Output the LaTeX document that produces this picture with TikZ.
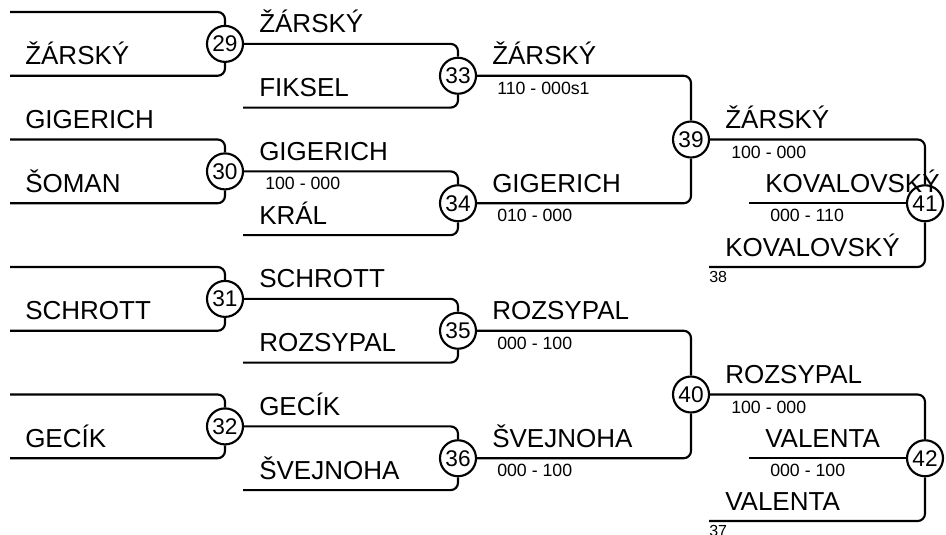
\documentclass[tikz,border=0pt]{standalone}
\usepackage{fontspec}
\setmainfont{Liberation Sans}
\tikzset{
  seat/.style={draw, circle, line width=1.6pt, minimum size=27pt, inner sep=0pt, font=\fontsize{17}{17}\selectfont},
  wire/.style={line width=1.6pt, rounded corners=5.5pt},
  player/.style={anchor=base west, inner sep=0pt, font=\fontsize{19.5}{20}\selectfont},
  score/.style={anchor=base west, inner sep=0pt, font=\fontsize{13.3}{14}\selectfont},
  slot/.style={anchor=base west, inner sep=0pt, font=\fontsize{12}{12}\selectfont},
}
\begin{document}
\begin{tikzpicture}[x=0.75pt, y=-0.75pt]
\useasboundingbox (0,0) rectangle (946,535);
% match circles
\node[seat] (m29) at (225,43.9) {29};
\node[seat] (m30) at (225,171.4) {30};
\node[seat] (m31) at (225,298.9) {31};
\node[seat] (m32) at (225,426.4) {32};
\node[seat] (m33) at (458,75.75) {33};
\node[seat] (m34) at (458,203.25) {34};
\node[seat] (m35) at (458,330.75) {35};
\node[seat] (m36) at (458,458.25) {36};
\node[seat] (m39) at (691,139.5) {39};
\node[seat] (m40) at (691,394.5) {40};
\node[seat] (m41) at (925,203.25) {41};
\node[seat] (m42) at (925,458.25) {42};
% free line ends
\coordinate (e1) at (10,12);
\coordinate (e2) at (10,75.75);
\coordinate (e3) at (10,139.5);
\coordinate (e4) at (10,203.25);
\coordinate (e5) at (10,267);
\coordinate (e6) at (10,330.75);
\coordinate (e7) at (10,394.5);
\coordinate (e8) at (10,458.25);
\coordinate (f33) at (243,107.6);
\coordinate (f34) at (243,235.1);
\coordinate (f35) at (243,362.6);
\coordinate (f36) at (243,490.1);
\coordinate (g41) at (749,203.25);
\coordinate (h41) at (709,267);
\coordinate (g42) at (749,458.25);
\coordinate (h42) at (709,521);
% first round
\draw[wire] (e1) -| (m29.north);
\draw[wire] (e2) -| (m29.south);
\draw[wire] (e3) -| (m30.north);
\draw[wire] (e4) -| (m30.south);
\draw[wire] (e5) -| (m31.north);
\draw[wire] (e6) -| (m31.south);
\draw[wire] (e7) -| (m32.north);
\draw[wire] (e8) -| (m32.south);
% second round
\draw[wire] (m29.east) -| (m33.north);
\draw[wire] (f33) -| (m33.south);
\draw[wire] (m30.east) -| (m34.north);
\draw[wire] (f34) -| (m34.south);
\draw[wire] (m31.east) -| (m35.north);
\draw[wire] (f35) -| (m35.south);
\draw[wire] (m32.east) -| (m36.north);
\draw[wire] (f36) -| (m36.south);
% third round
\draw[wire] (m33.east) -| (m39.north);
\draw[wire] (m34.east) -| (m39.south);
\draw[wire] (m35.east) -| (m40.north);
\draw[wire] (m36.east) -| (m40.south);
% final matches
\draw[wire] (m39.east) -| (m41.north);
\draw[wire] (g41) -- (m41.west);
\draw[wire] (h41) -| (m41.south);
\draw[wire] (m40.east) -| (m42.north);
\draw[wire] (g42) -- (m42.west);
\draw[wire] (h42) -| (m42.south);
% names, first round
\node[player] (n1) at (25,64.75) {ŽÁRSKÝ};
\node[player] (n2) at (25,128.5) {GIGERICH};
\node[player] (n3) at (25,192.25) {ŠOMAN};
\node[player] (n4) at (25,319.75) {SCHROTT};
\node[player] (n5) at (25,447.25) {GECÍK};
% names, second round
\node[player] (n6) at (259,32.9) {ŽÁRSKÝ};
\node[player] (n7) at (259,96.6) {FIKSEL};
\node[player] (n8) at (259,160.4) {GIGERICH};
\node[score] (r8) at (265,189.9) {100 - 000};
\node[player] (n9) at (259,224.1) {KRÁL};
\node[player] (n10) at (259,287.9) {SCHROTT};
\node[player] (n11) at (259,351.6) {ROZSYPAL};
\node[player] (n12) at (259,415.4) {GECÍK};
\node[player] (n13) at (259,479.1) {ŠVEJNOHA};
% names, third round
\node[player] (n14) at (492,64.75) {ŽÁRSKÝ};
\node[score] (r14) at (497,94.25) {110 - 000s1};
\node[player] (n15) at (492,192.25) {GIGERICH};
\node[score] (r15) at (497,221.75) {010 - 000};
\node[player] (n16) at (492,319.75) {ROZSYPAL};
\node[score] (r16) at (497,349.25) {000 - 100};
\node[player] (n17) at (492,447.25) {ŠVEJNOHA};
\node[score] (r17) at (497,476.75) {000 - 100};
% names, last round
\node[player] (n18) at (725,128.5) {ŽÁRSKÝ};
\node[score] (r18) at (731,158) {100 - 000};
\node[player] (n19) at (765,192.25) {KOVALOVSKÝ};
\node[score] (r19) at (770,221.75) {000 - 110};
\node[player] (n20) at (725,256) {KOVALOVSKÝ};
\node[slot] (t38) at (709,282.5) {38};
\node[player] (n21) at (725,383.5) {ROZSYPAL};
\node[score] (r21) at (731,413) {100 - 000};
\node[player] (n22) at (765,447.25) {VALENTA};
\node[score] (r22) at (770,476.75) {000 - 100};
\node[player] (n23) at (725,510) {VALENTA};
\node[slot] (t37) at (709,536.5) {37};
\end{tikzpicture}
\end{document}
